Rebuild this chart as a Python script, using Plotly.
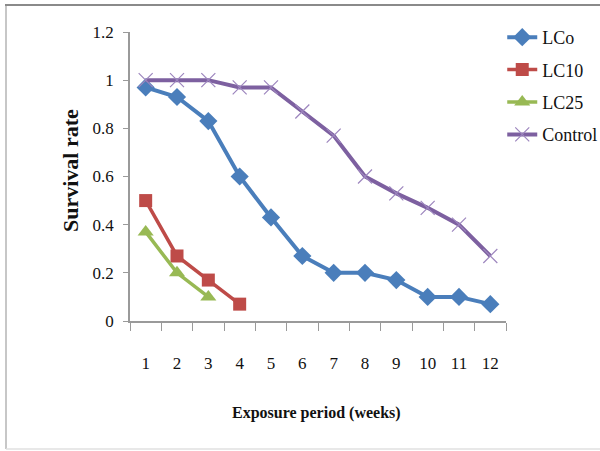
import plotly.graph_objects as go

weeks = ["1", "2", "3", "4", "5", "6", "7", "8", "9", "10", "11", "12"]
lco = [0.97, 0.93, 0.83, 0.60, 0.43, 0.27, 0.20, 0.20, 0.17, 0.10, 0.10, 0.07]
lc10 = [0.50, 0.27, 0.17, 0.07]
lc25 = [0.37, 0.20, 0.10]
control = [1.0, 1.0, 1.0, 0.97, 0.97, 0.87, 0.77, 0.60, 0.53, 0.47, 0.40, 0.27]
series_names = ["LCo", "LC10", "LC25", "Control"]
y_ticks = [0, 0.2, 0.4, 0.6, 0.8, 1.0, 1.2]
y_tick_text = ["0", "0.2", "0.4", "0.6", "0.8", "1", "1.2"]

FONT = "Liberation Serif, serif"
LEGEND_FONT = "Times New Roman, Liberation Serif, serif"

fig = go.Figure()
fig.add_trace(go.Scatter(
    x=weeks, y=lco, name=series_names[0], mode="lines+markers", legendgroup="a",
    line=dict(color="#4A7EBB", width=4),
    marker=dict(symbol="diamond", size=14, color="#4A7EBB")))
fig.add_trace(go.Scatter(
    x=weeks[:len(lc10)], y=lc10, name=series_names[1], mode="lines+markers", legendgroup="b",
    line=dict(color="#BE4B48", width=3.5),
    marker=dict(symbol="square", size=13, color="#BE4B48")))
fig.add_trace(go.Scatter(
    x=weeks[:len(lc25)], y=lc25, name=series_names[2], mode="lines+markers", legendgroup="c",
    line=dict(color="#98B954", width=3.5),
    marker=dict(symbol="triangle-up", size=14, color="#98B954")))
fig.add_trace(go.Scatter(
    x=weeks, y=control, name=series_names[3], mode="lines+markers", legendgroup="d",
    line=dict(color="#7D60A0", width=4),
    marker=dict(symbol="x-thin", size=14, color="#9D86BE",
                line=dict(color="#9D86BE", width=1.2))))

fig.update_layout(
    width=600, height=451,
    margin=dict(l=130, r=94, t=32, b=130, autoexpand=False),
    paper_bgcolor="white", plot_bgcolor="white",
    font=dict(family=FONT, color="#111111", size=17),
    showlegend=True,
    legend=dict(x=0.99, xanchor="left", y=1.045, yanchor="top",
                font=dict(family=LEGEND_FONT, size=18, color="#111111"),
                tracegroupgap=6, bgcolor="rgba(0,0,0,0)"),
    xaxis=dict(type="category", categoryorder="array", categoryarray=weeks,
               range=[-0.5, 11.5],
               tickson="boundaries", ticks="outside", ticklen=8, tickcolor="#9A9A9A",
               showline=True, linecolor="#9A9A9A", linewidth=1.5,
               showgrid=False, zeroline=False, ticklabelstandoff=26,
               tickfont=dict(family=FONT, size=17, color="#111111")),
    yaxis=dict(range=[0, 1.2], tickvals=y_ticks, ticktext=y_tick_text,
               ticks="outside", ticklen=5, tickcolor="#9A9A9A",
               showline=True, linecolor="#9A9A9A", linewidth=1.5,
               showgrid=False, zeroline=False, ticklabelstandoff=6,
               tickfont=dict(family=FONT, size=17, color="#111111")),
)

fig.add_annotation(text="<b>Survival rate</b>", xref="paper", yref="paper",
                   x=-0.16, y=0.522, textangle=-90, showarrow=False,
                   xanchor="center", yanchor="middle",
                   font=dict(family=FONT, size=22, color="#111111"))
fig.add_annotation(text="<b>Exposure period (weeks)</b>", xref="paper", yref="paper",
                   x=0.495, y=-0.318, showarrow=False,
                   xanchor="center", yanchor="middle",
                   font=dict(family=FONT, size=16, color="#111111"))

# outer frame
def px_x(p):
    return (p - 130) / 376.0

def px_y(p):
    return (321 - p) / 289.0

fig.add_shape(type="line", xref="paper", yref="paper",
              x0=px_x(6), x1=px_x(6), y0=px_y(5), y1=px_y(449),
              line=dict(color="#B5B5B5", width=1.5))
fig.add_shape(type="line", xref="paper", yref="paper",
              x0=px_x(6), x1=px_x(600), y0=px_y(449), y1=px_y(449),
              line=dict(color="#E0E0E0", width=1.5))

post = (
    "document.body.style.margin='0';"
    "var d=document.createElement('div');"
    "d.style.cssText='position:absolute;left:5px;top:4px;width:595px;height:2px;"
    "background:#8A8A8A;z-index:10;pointer-events:none';"
    "document.body.appendChild(d);"
)
fig.write_html("out.html", config={"displayModeBar": False}, post_script=post)
